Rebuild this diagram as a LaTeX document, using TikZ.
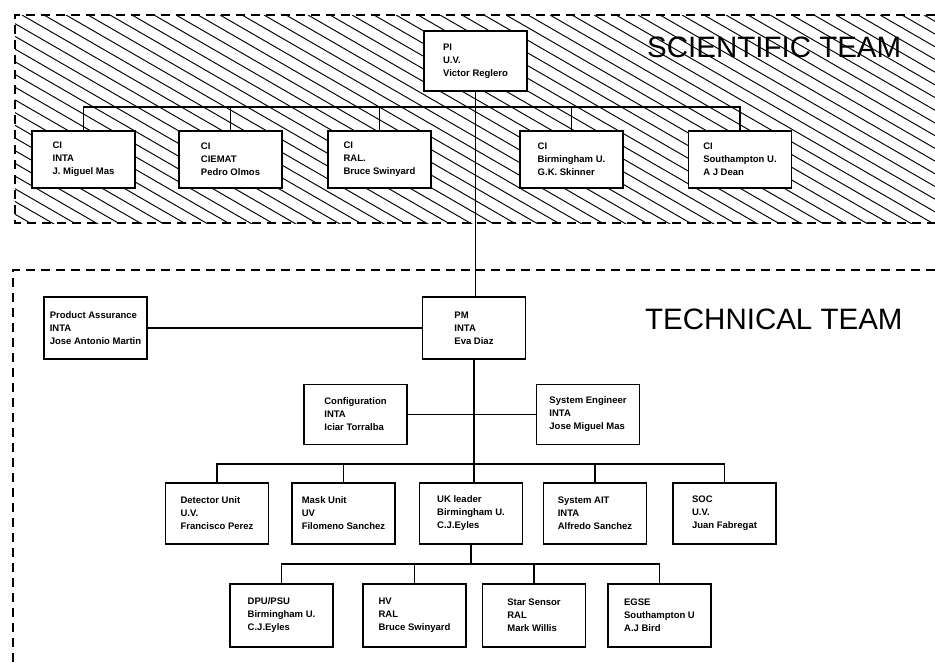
\documentclass[tikz,border=0pt]{standalone}
\usepackage{fontspec}
\setmainfont{Liberation Sans}
\usetikzlibrary{positioning}

\begin{document}
\begin{tikzpicture}[x=1pt,y=-1pt]
  \tikzstyle{unit}=[rectangle,draw,line width=1.8pt,fill=white,minimum width=103pt,minimum height=60pt,align=left,font=\fontsize{9.5}{13}\selectfont\bfseries]
  \tikzstyle{link}=[line width=1.2pt]
  \tikzstyle{frame}=[line width=1.6pt,dash pattern=on 9pt off 6pt]
  \tikzstyle{teamlabel}=[anchor=west,inner sep=0pt,font=\fontsize{29.5}{30}\selectfont]

  \useasboundingbox (0,0) rectangle (935,662);

  \begin{scope}
    \clip (15,15) rectangle (935,223);
    \foreach \i in {-17,...,43}
      \draw[line width=0.95pt] (\i*22,15) -- ++(420,242.5);
  \end{scope}
  \draw[frame] (935,15) -- (15,15) -- (15,223) -- (935,223);
  \draw[frame] (935,270) -- (13,270) -- (13,662);

  \node[teamlabel] (sci) at (647,47) {SCIENTIFIC TEAM};
  \node[teamlabel] (tech) at (645,319) {TECHNICAL TEAM};

  \node[unit] (pi) at (475.5,61) {PI\\U.V.\\Victor Reglero};
  \node[unit,minimum height=57pt] (ci1) at (83.5,159.5) {CI\\INTA\\J. Miguel Mas};
  \node[unit,minimum height=57pt] (ci2) at (230.5,159.5) {CI\\CIEMAT\\Pedro Olmos};
  \node[unit,minimum height=57pt] (ci3) at (379.5,159.5) {CI\\RAL.\\Bruce Swinyard};
  \node[unit,minimum height=57pt] (ci4) at (571.5,159.5) {CI\\Birmingham U.\\G.K. Skinner};
  \node[unit,minimum height=57pt] (ci5) at (740,159.5) {CI\\Southampton U.\\A J  Dean};

  \node[unit,minimum height=62pt] (pm) at (474,328) {PM\\INTA\\Eva Diaz};
  \node[unit,minimum height=62pt] (pa) at (95.5,328) {Product Assurance\\INTA\\Jose Antonio Martin};
  \node[unit] (cfg) at (355.5,414.5) {Configuration\\INTA\\Iciar Torralba};
  \node[unit] (se) at (588,414.5) {System Engineer\\INTA\\Jose Miguel Mas};

  \node[unit,minimum height=61pt] (det) at (217,513.5) {Detector Unit\\U.V.\\Francisco Perez};
  \node[unit,minimum height=61pt] (mask) at (343.5,513.5) {Mask Unit\\UV\\Filomeno Sanchez};
  \node[unit,minimum height=61pt] (uk) at (471,513.5) {UK leader\\Birmingham U.\\C.J.Eyles};
  \node[unit,minimum height=61pt] (ait) at (595,513.5) {System AIT\\INTA\\Alfredo Sanchez};
  \node[unit,minimum height=61pt] (soc) at (724.5,513.5) {SOC\\U.V.\\Juan Fabregat};

  \node[unit,minimum height=63pt] (dpu) at (281.5,615.5) {DPU/PSU\\Birmingham U.\\C.J.Eyles};
  \node[unit,minimum height=63pt] (hv) at (414.5,615.5) {HV\\RAL\\Bruce Swinyard};
  \node[unit,minimum height=63pt] (star) at (534,615.5) {Star Sensor\\RAL\\Mark Willis};
  \node[unit,minimum height=63pt] (egse) at (659.5,615.5) {EGSE\\Southampton U\\A.J Bird};

  \coordinate (sbus) at (0,107);
  \coordinate (tbus) at (0,464);
  \coordinate (ubus) at (0,564);

  \draw[link] (pi.south) -- (pi.south |- pm.north);
  \draw[link] (ci1.north) |- (sbus -| ci5.north) -- (ci5.north);
  \foreach \n in {ci2,ci3,ci4}
    \draw[link] (\n.north) -- (\n.north |- sbus);

  \draw[link] (pa.east) -- (pm.west);
  \draw[link] (pm.south) -- (pm.south |- uk.north);
  \draw[link] (cfg.east) -- (se.west);
  \draw[link] (det.north) |- (tbus -| soc.north) -- (soc.north);
  \foreach \n in {mask,ait}
    \draw[link] (\n.north) -- (\n.north |- tbus);

  \draw[link] (uk.south) -- (uk.south |- ubus);
  \draw[link] (dpu.north) |- (ubus -| egse.north) -- (egse.north);
  \foreach \n in {hv,star}
    \draw[link] (\n.north) -- (\n.north |- ubus);
\end{tikzpicture}
\end{document}
